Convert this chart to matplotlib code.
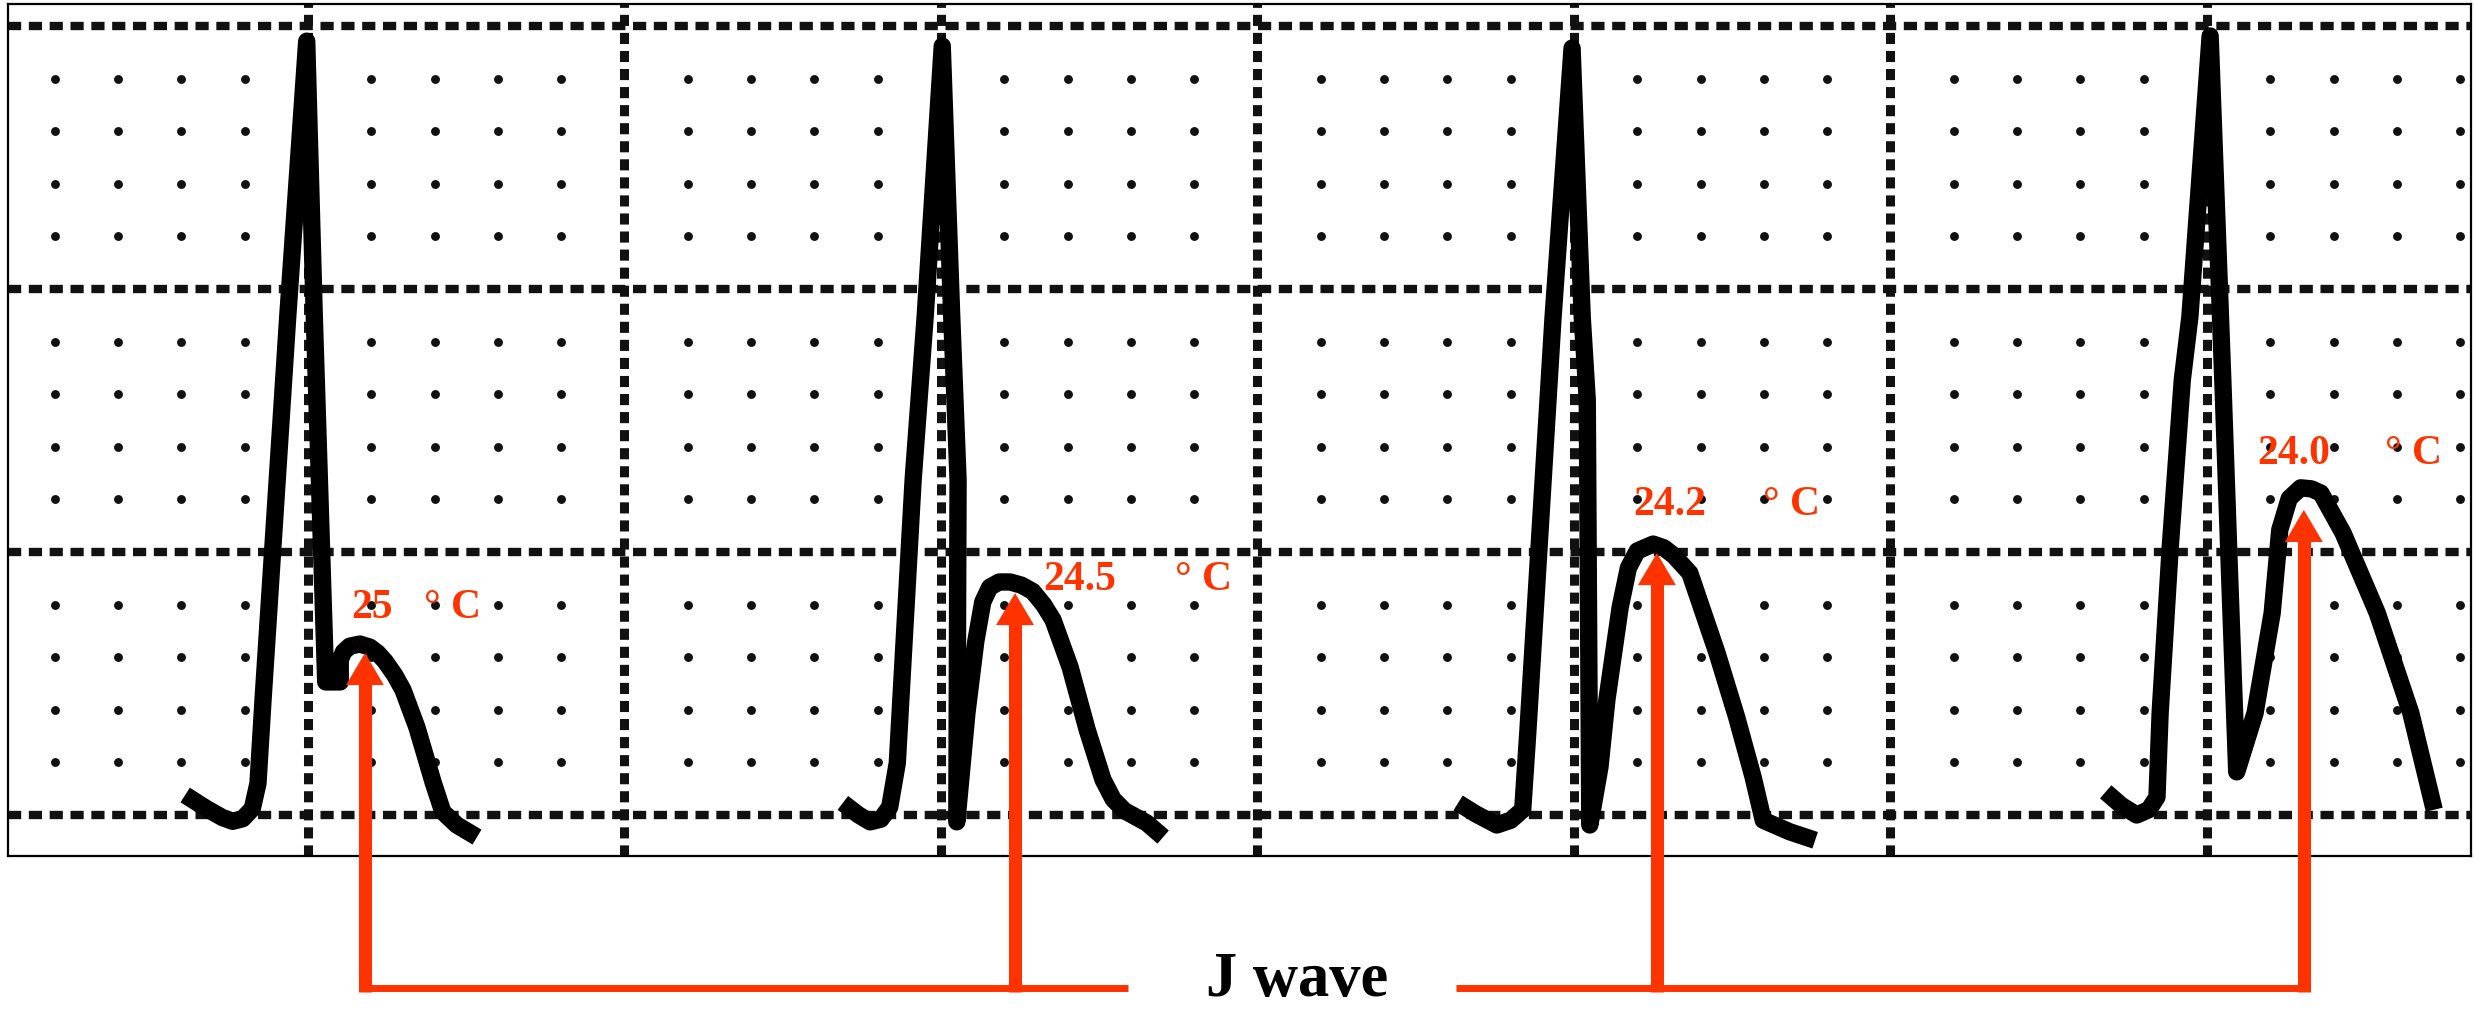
import matplotlib
matplotlib.use("Agg")
import matplotlib.pyplot as plt
import numpy as np

plt.rcParams['lines.scale_dashes'] = False

# ---------------- data (units: small ECG boxes; x = time, y = amplitude) -------------
beat1_x = [-1.94, -1.60, -1.35, -1.19, -1.03, -0.88, -0.79, -0.71, -0.32, -0.02, 0.10, 0.28,
           0.51, 0.51, 0.56, 0.66, 0.82, 0.98, 1.10, 1.22, 1.37, 1.50, 1.72, 1.98, 2.13,
           2.35, 2.67]
beat1_y = [0.38, 0.12, -0.05, -0.12, -0.07, 0.12, 0.60, 2.19, 9.47, 14.71, 9.47, 2.53,
           2.53, 2.95, 3.10, 3.21, 3.25, 3.19, 3.08, 2.92, 2.66, 2.38, 1.67, 0.61, 0.06,
           -0.19, -0.42]

beat2_x = [8.45, 8.70, 8.88, 9.05, 9.19, 9.31, 9.56, 9.75, 10.02, 10.17, 10.27, 10.25,
           10.41, 10.55, 10.66, 10.77, 10.92, 11.09, 11.27, 11.45, 11.62, 11.77, 12.04,
           12.31, 12.56, 12.72, 12.90, 13.25, 13.51]
beat2_y = [0.23, 0.00, -0.13, -0.08, 0.15, 0.99, 6.37, 9.47, 14.62, 9.47, 6.37, -0.13,
           1.94, 3.30, 4.05, 4.33, 4.43, 4.43, 4.37, 4.25, 4.00, 3.71, 2.81,
           1.62, 0.67, 0.30, 0.08, -0.15, -0.42]

beat3_x = [18.17, 18.45, 18.78, 19.00, 19.19, 19.27, 19.59, 19.67, 19.97, 20.13, 20.21,
           20.25, 20.41, 20.52, 20.73, 20.86, 21.00, 21.25, 21.42, 21.58, 21.83, 22.26,
           22.57, 22.83, 22.99, 23.41, 23.81]
beat3_y = [0.23, 0.02, -0.19, -0.10, 0.10, 1.56, 7.89, 9.47, 14.58, 9.47, 7.89,
           -0.19, 0.91, 2.19, 3.95, 4.70, 5.02, 5.15, 5.08, 4.93, 4.60, 3.08,
           1.86, 0.72, -0.10, -0.32, -0.48]

beat4_x = [28.40, 28.65, 28.89, 29.08, 29.21, 29.26, 29.42, 29.61, 29.73, 30.05,
           30.25, 30.36, 30.47, 30.76, 31.03, 31.15, 31.30, 31.48, 31.65, 31.80, 32.15,
           32.69, 33.22, 33.59]
beat4_y = [0.44, 0.18, 0.00, 0.10, 0.34, 1.94, 5.10, 8.27, 9.47, 14.81,
           8.27, 4.47, 0.82, 1.94, 3.84, 5.42, 6.02, 6.22, 6.20, 6.12, 5.36,
           3.84, 1.94, 0.10]

# J-wave arrow tips
j_tip_x = [0.90, 11.17, 21.31, 31.53]
j_tip_y = [3.08, 4.22, 4.98, 5.80]

temps = ['25', '24.5', '24.2', '24.0']
unit_label = '\u00b0 C'
j_label = 'J wave'

# ---------------- layout ----------------
RED = '#ff3300'
W, H = 2474, 1009
fig = plt.figure(figsize=(W / 100, H / 100), dpi=100)
ax = fig.add_axes([8 / W, 153 / H, 2463 / W, 852 / H])
ax.set_xlim(-4.739, 34.171)
ax.set_ylim(-0.7795, 15.418)
ax.set_xticks([])
ax.set_yticks([])
for s in ax.spines.values():
    s.set_linewidth(1.6)
    s.set_color('black')

# ECG paper: minor dots and dotted major lines
GRID = '#111111'
xs = [i for i in range(-4, 35) if i % 5]
ys = [j for j in range(1, 15) if j % 5]
X, Y = np.meshgrid(xs, ys)
ax.plot(X.ravel(), Y.ravel(), 'o', ms=6.4, color=GRID, mec='none', zorder=1)
for xv in range(0, 35, 5):
    ax.axvline(xv, color=GRID, lw=6.5, ls=(0, (8.0, 5.0)), dash_capstyle='butt', zorder=1)
for yv in range(0, 16, 5):
    ax.axhline(yv, color=GRID, lw=6.0, ls=(0, (9.5, 5.5)), dash_capstyle='butt', zorder=1)

# ECG beats
for bx, by in [(beat1_x, beat1_y), (beat2_x, beat2_y), (beat3_x, beat3_y), (beat4_x, beat4_y)]:
    ax.plot(bx, by, color='black', lw=12.5, solid_joinstyle='round',
            solid_capstyle='butt', zorder=3)

# arrows
base_y = -3.29
hw, hl = 0.30, 0.61
for x, y in zip(j_tip_x, j_tip_y):
    ax.plot([x, x], [base_y - 0.07, y - hl + 0.02], color=RED, lw=9.4,
            solid_capstyle='butt', clip_on=False, zorder=5)
    ax.fill([x - hw, x + hw, x], [y - hl, y - hl, y], color=RED, lw=0,
            clip_on=False, zorder=5)

ax.plot([j_tip_x[0] - 0.1, 12.95], [base_y, base_y], color=RED, lw=5,
        solid_capstyle='butt', clip_on=False, zorder=5)
ax.plot([18.14, j_tip_x[3] + 0.1], [base_y, base_y], color=RED, lw=5,
        solid_capstyle='butt', clip_on=False, zorder=5)

ax.text(15.62, -3.44, j_label, ha='center', va='baseline', fontsize=45,
        fontweight='bold', family='Liberation Serif', color='black', clip_on=False)

# temperature labels
label_x = [0.68, 11.62, 20.94, 30.79]
label_y = [3.75, 4.28, 5.70, 6.67]
unit_x = [1.84, 13.69, 22.98, 32.82]
for t, lx, ly, ux in zip(temps, label_x, label_y, unit_x):
    ax.text(lx, ly, t, ha='left', va='baseline', fontsize=30, fontweight='bold',
            family='Liberation Serif', color=RED, zorder=6)
    ax.text(ux, ly, unit_label, ha='left', va='baseline', fontsize=30, fontweight='bold',
            family='Liberation Serif', color=RED, zorder=6)

fig.savefig('out.png', dpi=100)
